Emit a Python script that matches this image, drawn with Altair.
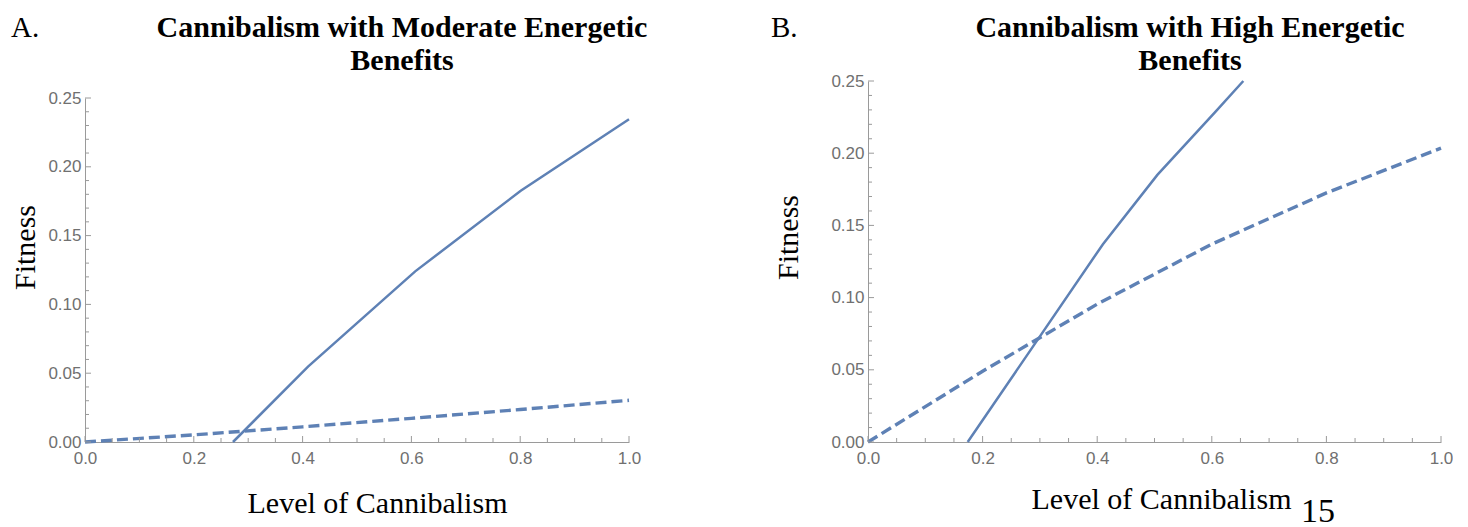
import altair as alt
import pandas as pd

# ---------------- data ----------------
# Panel A: moderate energetic benefits
a_solid_x = [0.272, 0.41, 0.607, 0.801, 1.0]
a_solid_y = [0.0, 0.0548, 0.1240, 0.1826, 0.2345]
a_dash_x = [0.0, 0.2, 0.4, 0.6, 0.8, 1.0]
a_dash_y = [0.0, 0.0052, 0.0110, 0.0172, 0.0236, 0.0303]

# Panel B: high energetic benefits
b_solid_x = [0.174, 0.41, 0.505, 0.607, 0.655]
b_solid_y = [0.0, 0.137, 0.185, 0.229, 0.25]
b_dash_x = [0.0, 0.2, 0.4, 0.6, 0.8, 1.0]
b_dash_y = [0.0, 0.049, 0.0955, 0.137, 0.1725, 0.2035]

# tick values
x_major = [0.0, 0.2, 0.4, 0.6, 0.8, 1.0]
x_minor = [0.05, 0.1, 0.15, 0.25, 0.3, 0.35, 0.45, 0.5, 0.55,
           0.65, 0.7, 0.75, 0.85, 0.9, 0.95]
y_major = [0.0, 0.05, 0.1, 0.15, 0.2, 0.25]
y_minor = [0.01, 0.02, 0.03, 0.04, 0.06, 0.07, 0.08, 0.09,
           0.11, 0.12, 0.13, 0.14, 0.16, 0.17, 0.18, 0.19,
           0.21, 0.22, 0.23, 0.24]

titles_a = ["Cannibalism with Moderate Energetic", "Benefits"]
titles_b = ["Cannibalism with High Energetic", "Benefits"]
x_title = "Level of Cannibalism"
y_title = "Fitness"

# ---------------- styling ----------------
SERIF = "Liberation Serif"
SANS = "Liberation Sans"
BLUE = "#5E81B5"
AXIS = "#9a9a9a"
LABEL = "#707070"
H = 361


def text_layer(txt, x, y, size, weight="normal", align="left"):
    return alt.Chart(alt.Data(values=[{}])).mark_text(
        font=SERIF, fontSize=size, fontWeight=weight, color="black",
        align=align, baseline="alphabetic"
    ).encode(x=alt.value(x), y=alt.value(y), text=alt.value(txt))


def panel(sx, sy, dx, dy, W, y_top, letter, letter_x, titles, title_cx,
          xt_x, xt_y, yt_x, yt_y, extra=None):
    xs = alt.Scale(domain=[0, 1], nice=False, zero=False)
    ys = alt.Scale(domain=[0, 0.25], nice=False, zero=False, range=[H, y_top])
    xaxis = alt.Axis(values=x_major, format=".1f", ticks=False, grid=False,
                     domainColor=AXIS, domainWidth=1, labelFont=SANS,
                     labelFontSize=17, labelColor=LABEL, labelPadding=8,
                     labelFlush=False, title=x_title, titleFont=SERIF,
                     titleFontSize=30, titleFontWeight="normal",
                     titleColor="black", titleX=xt_x, titleY=xt_y,
                     titleAlign="center", titleBaseline="alphabetic")
    yaxis = alt.Axis(values=y_major, format=".2f", ticks=False, grid=False,
                     domainColor=AXIS, domainWidth=1, labelFont=SANS,
                     labelFontSize=17, labelColor=LABEL, labelPadding=4,
                     labelFlush=False, title=y_title, titleFont=SERIF,
                     titleFontSize=30, titleFontWeight="normal",
                     titleColor="black", titleX=yt_x, titleY=yt_y,
                     titleAngle=270, titleAlign="center",
                     titleBaseline="middle")

    dashed = alt.Chart(pd.DataFrame({"x": dx, "y": dy})).mark_line(
        color=BLUE, strokeWidth=3.4, strokeDash=[11, 5], strokeCap="butt"
    ).encode(x=alt.X("x:Q", scale=xs, axis=xaxis),
             y=alt.Y("y:Q", scale=ys, axis=yaxis))
    solid = alt.Chart(pd.DataFrame({"x": sx, "y": sy})).mark_line(
        color=BLUE, strokeWidth=2.5
    ).encode(x=alt.X("x:Q", scale=xs, axis=xaxis),
             y=alt.Y("y:Q", scale=ys, axis=yaxis))

    def xticks(vals, ln):
        return alt.Chart(pd.DataFrame({"x": vals})).mark_rule(
            color=AXIS, strokeWidth=1
        ).encode(x=alt.X("x:Q", scale=xs),
                 y=alt.value(H), y2=alt.value(H - ln))

    def yticks(vals, ln):
        return alt.Chart(pd.DataFrame({"y": vals})).mark_rule(
            color=AXIS, strokeWidth=1
        ).encode(y=alt.Y("y:Q", scale=ys),
                 x=alt.value(0), x2=alt.value(ln))

    layers = [dashed, solid,
              xticks(x_major, 6), xticks(x_minor, 4),
              yticks(y_major, 6), yticks(y_minor, 4),
              text_layer(letter, letter_x, -44, 29),
              text_layer(titles[0], title_cx, -44, 30, "bold", "center"),
              text_layer(titles[1], title_cx, -11, 30, "bold", "center")]
    if extra is not None:
        layers.append(extra)
    return alt.layer(*layers).properties(width=W, height=H)


panel_a = panel(a_solid_x, a_solid_y, a_dash_x, a_dash_y, 544, 17,
                "A.", -74, titles_a, 317, 292, 70, -60, 166)
panel_b = panel(b_solid_x, b_solid_y, b_dash_x, b_dash_y, 573, 0,
                "B.", -97, titles_b, 322, 293, 66, -80, 156,
                extra=text_layer("15", 433, 441, 34))

chart = alt.hconcat(panel_a, panel_b, spacing=239, bounds="flush").properties(
    padding={"left": 2, "top": 5, "right": 0, "bottom": 0}
).configure_view(stroke=None)

chart.save("out.html", embed_options={"renderer": "svg", "actions": False})
